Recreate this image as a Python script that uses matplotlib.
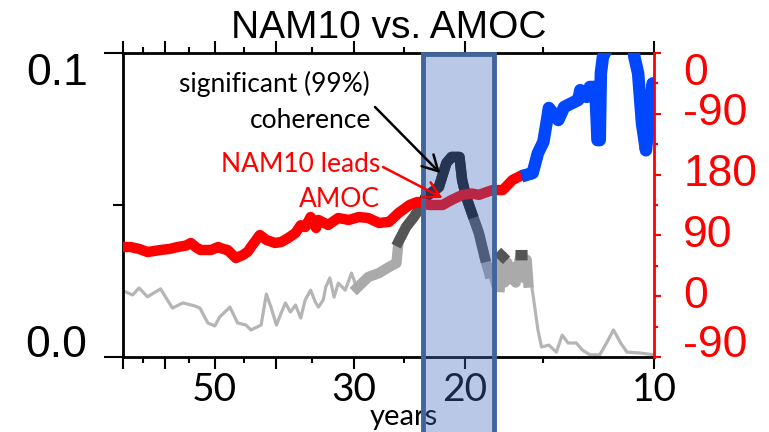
import numpy as np
import matplotlib
matplotlib.use("Agg")
import matplotlib.pyplot as plt
from matplotlib.patches import Rectangle
from matplotlib.ticker import FixedLocator, FixedFormatter, NullFormatter

# ---------------- data ----------------
# coherence (left axis) vs period in years; sig_level: 0 none, 1 weak, 2 strong, 3 99%
coh_period = [70.0, 67.6, 66.0, 64.0, 61.0, 58.4, 56.2, 53.8, 52.8, 51.3, 50.0, 49.1,
              47.3, 46.0, 44.6, 43.8, 42.2, 41.4, 40.7, 39.9, 39.2, 38.6, 37.9, 37.2,
              36.5, 35.9, 35.2, 34.6, 34.2, 33.6, 33.3, 32.8, 32.3, 31.8, 31.0, 30.3,
              29.7, 28.5, 27.4, 26.4, 25.7, 25.5, 24.8, 24.1, 23.7, 23.3, 23.1, 22.0,
              21.4, 21.0, 20.4, 20.2, 19.9, 19.5, 19.0, 18.6, 18.3, 18.0, 17.6, 17.5,
              17.4, 17.3, 17.1, 17.0, 16.8, 16.6, 16.4, 16.3, 16.2, 16.1, 15.95, 15.85,
              15.7, 15.3, 15.1, 14.7, 14.3, 14.0, 13.7, 13.3, 13.0, 12.65, 12.2, 11.9,
              11.6, 11.3, 11.04, 10.5, 10.0]
coherence = [0.0218, 0.0204, 0.0227, 0.0198, 0.0224, 0.0161, 0.0178, 0.0168, 0.0161, 0.0112, 0.0102, 0.0132,
             0.0164, 0.0112, 0.0105, 0.0089, 0.0105, 0.0207, 0.0164, 0.0105, 0.0145, 0.0178, 0.0148, 0.0171,
             0.0128, 0.0188, 0.0220, 0.0181, 0.0164, 0.0188, 0.0230, 0.0260, 0.0197, 0.0243, 0.0220, 0.0276,
             0.0227, 0.0263, 0.0276, 0.0296, 0.0309, 0.0380, 0.0428, 0.0461, 0.0484, 0.0510, 0.0526, 0.0559,
             0.0638, 0.0658, 0.0658, 0.0582, 0.0526, 0.0474, 0.0408, 0.0329, 0.0276, 0.0227, 0.0230, 0.0335,
             0.0330, 0.0245, 0.0310, 0.0255, 0.0295, 0.0245, 0.0310, 0.0335, 0.0335, 0.0260, 0.0320, 0.0245,
             0.0253, 0.0089, 0.0033, 0.0039, 0.0016, 0.0072, 0.0046, 0.0046, 0.0023, 0.0007, 0.0007, 0.0046,
             0.0089, 0.0046, 0.0016, 0.0013, 0.0007]
sig_level = [0, 0, 0, 0, 0, 0, 0, 0, 0, 0, 0, 0,
             0, 0, 0, 0, 0, 0, 0, 0, 0, 0, 0, 0,
             0, 0, 0, 0, 0, 0, 0, 0, 0, 0, 0, 0,
             1, 1, 1, 1, 1, 2, 2, 2, 2, 3, 3, 3,
             3, 3, 3, 3, 3, 3, 2, 2, 1, 0, 1, 2,
             2, 1, 1, 1, 1, 1, 1, 2, 2, 1, 1, 1,
             0, 0, 0, 0, 0, 0, 0, 0, 0, 0, 0, 0,
             0, 0, 0, 0, 0]

# phase (right axis, degrees), red part and blue part
phase_red_period = [70.0, 68.1, 66.0, 64.0, 61.0, 59.0, 57.3, 55.5, 54.6, 53.5, 52.7, 50.7,
                    49.4, 48.5, 47.7, 46.3, 45.1, 44.3, 43.8, 42.4, 41.4, 40.1, 39.2, 38.2,
                    37.2, 36.5, 35.9, 35.2, 34.5, 34.2, 33.0, 31.8, 30.6, 29.5, 28.5, 27.4,
                    26.4, 25.5, 24.5, 23.8, 22.8, 21.7, 21.0, 20.2, 19.5, 19.0, 18.1, 17.4,
                    16.8, 16.2, 15.9]
phase_red = [72.8, 72.8, 70.0, 65.4, 68.4, 70.0, 72.8, 75.0, 78.8, 72.0, 68.4, 68.4,
             72.8, 70.0, 68.4, 56.5, 61.0, 66.0, 72.8, 90.6, 83.2, 78.8, 80.2, 86.2,
             93.6, 105.0, 102.4, 117.2, 101.0, 112.8, 105.4, 115.8, 112.8, 117.2, 115.8, 108.4,
             110.0, 123.2, 135.0, 139.5, 135.0, 135.0, 142.4, 149.8, 152.0, 150.0, 157.0, 157.2,
             172.0, 179.4, 180.0]
phase_blue_period = [15.9, 15.6, 15.3, 15.0, 14.8, 14.7, 14.2, 13.9, 13.5, 13.2, 13.1, 12.8,
                     12.65, 12.4, 12.3, 12.2, 12.15, 12.06, 11.9, 11.5, 11.0, 10.84, 10.75, 10.6,
                     10.45, 10.3, 10.14, 10.05, 10.0]
phase_blue = [180.0, 182.4, 212.0, 228.3, 260.8, 278.6, 260.8, 280.0, 286.0, 290.5, 305.0, 295.0,
              309.7, 309.7, 231.0, 231.0, 330.0, 354.0, 365.0, 420.0, 420.0, 400.0, 355.0, 330.0,
              256.0, 216.0, 280.0, 315.0, 300.0]

# axis ticks / labels
x_major = [70, 60, 50, 40, 30, 20, 10]
x_major_labels = ["", "", "50", "", "30", "20", "10"]
x_minor = [65, 55, 45, 35, 25, 15]
coh_ticks = [0.0, 0.1]
coh_labels = ["0.0", "0.1"]
coh_minor = [0.05]
phase_ticks = [-90, 0, 90, 180, 270, 360]
phase_labels = ["-90", "0", "90", "180", "-90", "0"]
phase_minor = [-45, 45, 135, 225, 315]

# ---------------- figure ----------------
W, H = 769, 432
fx = lambda x: x / W
fy = lambda y: 1 - y / H

fig = plt.figure(figsize=(W / 100, H / 100), dpi=100)
fig.patch.set_facecolor("white")
ax = fig.add_axes([fx(123), fy(357), (654 - 123) / W, (357 - 53) / H])
ax.set_xscale("log")

p = np.array(coh_period)
c = np.array(coherence)
s = np.array(sig_level)
ax.plot(p, c, color="#b5b5b5", lw=2.3, zorder=2)
ax.plot(p, np.where(s >= 1, c, np.nan), color="#aaaaaa", lw=7.5, zorder=3)
ax.plot(p, np.where(s >= 2, c, np.nan), color="#555555", lw=7.5, zorder=4)
ax.plot(p, np.where(s >= 3, c, np.nan), color="#161616", lw=7.5, zorder=5)

ax.set_xlim(70, 10)
ax.set_ylim(0, 0.1)
ax.xaxis.set_major_locator(FixedLocator(x_major))
ax.xaxis.set_major_formatter(FixedFormatter(x_major_labels))
ax.xaxis.set_minor_locator(FixedLocator(x_minor))
ax.xaxis.set_minor_formatter(NullFormatter())
ax.set_yticks(coh_ticks, coh_labels)
ax.yaxis.set_minor_locator(FixedLocator(coh_minor))

ax.tick_params(axis="x", which="major", direction="out", length=8.5, width=1.5,
               top=True, bottom=True, labelsize=28, pad=2, labelfontfamily="Lato")
ax.tick_params(axis="x", which="minor", direction="out", length=4.5, width=1.5,
               top=True, bottom=True)
ax.tick_params(axis="y", which="major", direction="out", length=14, width=1.5,
               labelsize=32, pad=11.5, labelfontfamily="Liberation Sans")
ax.tick_params(axis="y", which="minor", direction="out", length=7, width=1.5)
for sp in ["left", "top", "bottom"]:
    ax.spines[sp].set_linewidth(2)
ax.spines["right"].set_visible(False)

ax2 = ax.twinx()
ax2.plot(phase_red_period, phase_red, color="#ff0000", lw=7.5, zorder=2,
         solid_joinstyle="round")
ax2.plot(phase_blue_period, phase_blue, color="#0047ff", lw=9, zorder=2,
         solid_joinstyle="round")
ax2.set_ylim(-90, 360)
ax2.set_yticks(phase_ticks, phase_labels)
ax2.yaxis.set_minor_locator(FixedLocator(phase_minor))
ax2.tick_params(axis="y", which="major", direction="out", length=5, width=1.5,
                colors="#ff0000", labelsize=32, pad=16, labelfontfamily="Liberation Sans")
ax2.tick_params(axis="y", which="minor", direction="out", length=3, width=1.5,
                colors="#ff0000")
for sp in ["left", "top", "bottom"]:
    ax2.spines[sp].set_visible(False)
ax2.spines["right"].set_color("#ff0000")
ax2.spines["right"].set_linewidth(2)

ax.figure.canvas.draw()
for t, va in zip(ax.yaxis.get_major_ticks(), ["baseline", "top"]):
    t.label1.set_va(va)
for t, va in zip(ax2.yaxis.get_major_ticks(),
                 ["baseline", "center", "center", "center", "center", "top"]):
    t.label2.set_va(va)

# title and x label
fig.text(fx(389), fy(38), "NAM10 vs. AMOC", ha="center", va="baseline",
         fontsize=28, family="Liberation Sans")
ax2.text(fx(404), fy(425), "years", ha="center", va="baseline", fontsize=21,
         family="Lato", transform=fig.transFigure, zorder=4, clip_on=False)

# highlight box
box_fill = Rectangle((fx(423), -0.1), (494 - 423) / W, 1.1 - 54.5 / H,
                     transform=fig.transFigure, facecolor="#416cbe", alpha=0.37,
                     edgecolor="none", zorder=5)
ax2.add_artist(box_fill)
box_fill.set_clip_on(False)
box_edge = Rectangle((fx(423), -0.1), (494 - 423) / W, 1.1 - 54.5 / H,
                     transform=fig.transFigure, facecolor="none",
                     edgecolor="#41649a", lw=3.5, zorder=5.5)
ax2.add_artist(box_edge)
box_edge.set_clip_on(False)

# annotations
ax2.text(fx(370), fy(92), "significant (99%)", ha="right", va="baseline",
         fontsize=19, family="Lato", color="black", transform=fig.transFigure, zorder=7)
ax2.text(fx(371), fy(128), "coherence", ha="right", va="baseline",
         fontsize=19, family="Lato", color="black", transform=fig.transFigure, zorder=7)
ax2.text(fx(380), fy(172), "NAM10 leads", ha="right", va="baseline",
         fontsize=19, family="Lato", color="#ff0000", transform=fig.transFigure, zorder=7)
ax2.text(fx(380), fy(207), "AMOC", ha="right", va="baseline",
         fontsize=19, family="Lato", color="#ff0000", transform=fig.transFigure, zorder=7)

ax2.annotate("", xy=(21.9, 0.0605), xycoords=ax.transData,
             xytext=(fx(375), fy(107)), textcoords="figure fraction",
             arrowprops=dict(arrowstyle="->,head_length=0.55,head_width=0.3",
                             color="black", lw=1.8, shrinkA=0, shrinkB=0,
                             mutation_scale=20),
             annotation_clip=False, zorder=7)
ax2.annotate("", xy=(21.7, 0.0523), xycoords=ax.transData,
             xytext=(fx(383), fy(167)), textcoords="figure fraction",
             arrowprops=dict(arrowstyle="->,head_length=0.55,head_width=0.3",
                             color="#ff0000", lw=1.8, shrinkA=0, shrinkB=0,
                             mutation_scale=20),
             annotation_clip=False, zorder=7)

fig.savefig("out.png", dpi=100)
